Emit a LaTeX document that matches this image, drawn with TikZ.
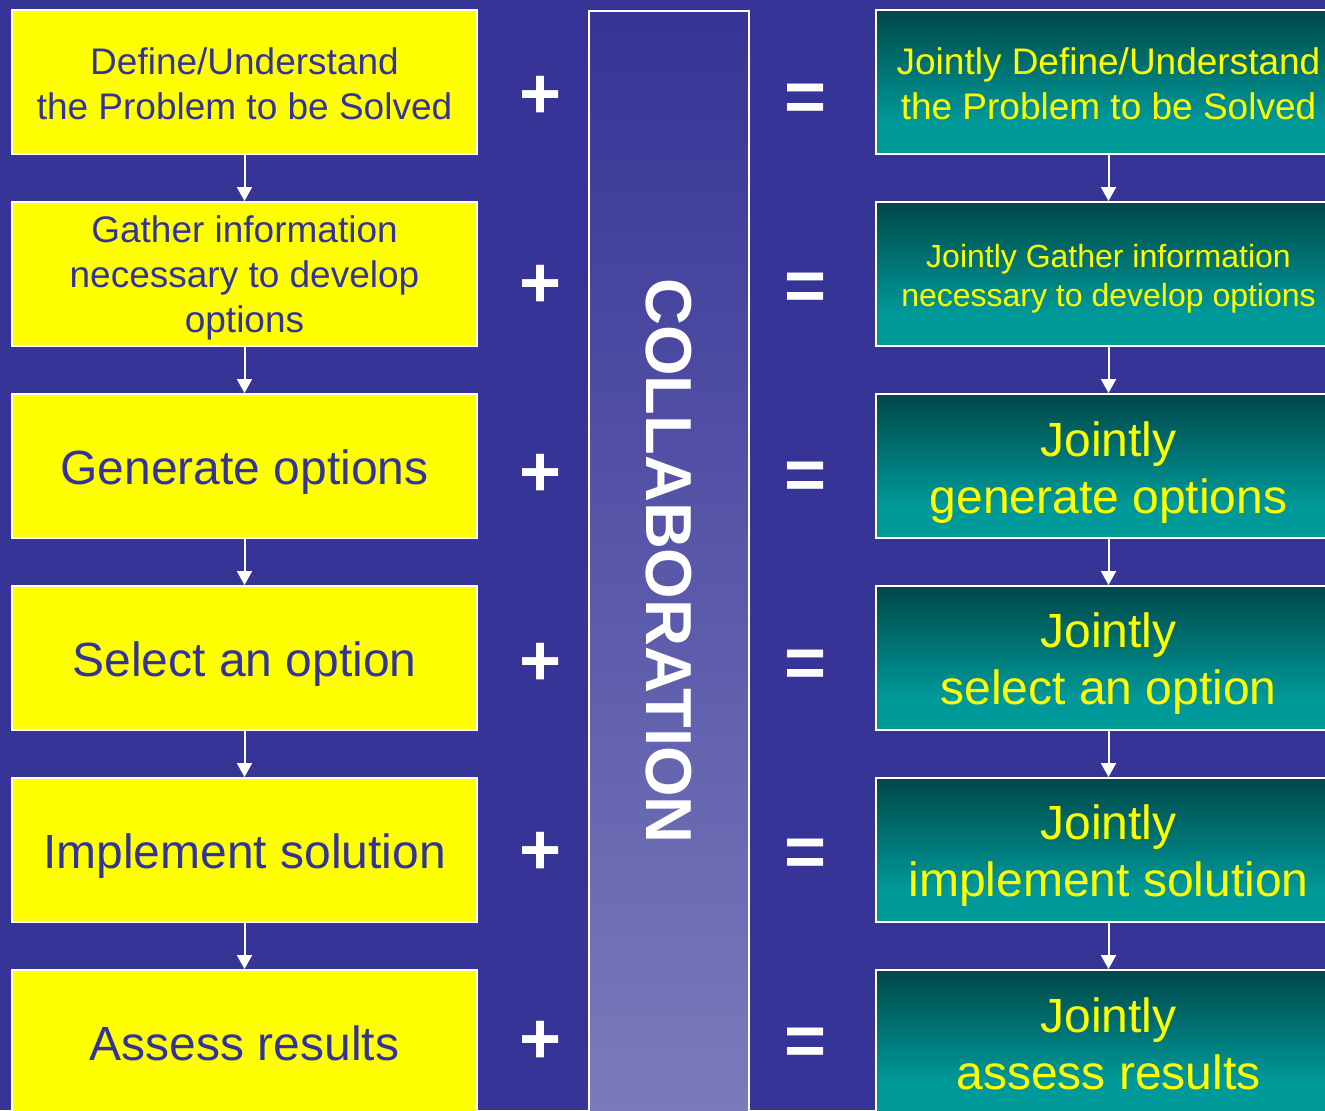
\documentclass[tikz,border=0pt]{standalone}
\usepackage{fontspec}
\setmainfont{Liberation Sans}
\usetikzlibrary{arrows.meta,shadings}

\definecolor{bgblue}{RGB}{54,52,150}
\definecolor{inkblue}{RGB}{51,51,153}
\definecolor{boxyellow}{RGB}{255,255,0}
\definecolor{tealdark}{RGB}{0,72,72}
\definecolor{teallight}{RGB}{0,153,153}
\definecolor{barlow}{RGB}{124,124,188}

% teal fill: dark at the top, reaching full teal about three quarters down
\pgfdeclareverticalshading{tealfade}{100bp}{color(0bp)=(teallight); color(36bp)=(teallight); color(75bp)=(tealdark); color(100bp)=(tealdark)}

\tikzset{
  stepbox/.style={draw=white, line width=2bp, minimum width=465bp, minimum height=144bp,
    inner sep=0pt},
  leftbox/.style={stepbox, fill=boxyellow},
  rightbox/.style={stepbox, shade, shading=tealfade},
  lefttxt/.style={text=inkblue, align=center, inner sep=0pt},
  righttxt/.style={text=boxyellow, align=center, inner sep=0pt},
  smalltxt/.style={font=\fontsize{37bp}{45bp}\selectfont},
  tinytxt/.style={font=\fontsize{32bp}{39bp}\selectfont},
  bigtxt/.style={font=\fontsize{48bp}{57bp}\selectfont},
  flow/.style={draw=white, line width=2bp, -{Triangle[width=15bp,length=14bp]}},
  opsign/.style={text=white, inner sep=0pt, font=\fontsize{72bp}{72bp}\selectfont\bfseries},
}

\begin{document}
\begin{tikzpicture}[x=1bp, y=-1bp]
  \useasboundingbox (0,0) rectangle (1325,1110);
  \clip (0,0) rectangle (1325,1110);
  \fill[bgblue] (0,0) rectangle (1325,1110);

  % central collaboration bar
  \node[draw=white, line width=2bp, top color=bgblue, bottom color=barlow,
        minimum width=160bp, minimum height=1120bp, inner sep=0pt, anchor=north]
        (bar) at (669,10) {};
  \node[rotate=-90, text=white, font=\fontsize{65bp}{65bp}\selectfont\bfseries]
        (collab) at (668.5,561) {COLLABORATION};

  % individual steps
  \node[leftbox] (L1) at (244.5,82)   {};
  \node[leftbox] (L2) at (244.5,274)  {};
  \node[leftbox] (L3) at (244.5,466)  {};
  \node[leftbox] (L4) at (244.5,658)  {};
  \node[leftbox] (L5) at (244.5,850)  {};
  \node[leftbox] (L6) at (244.5,1042) {};
  \node[lefttxt, smalltxt] (L1t) at ([yshift=-2bp]L1.center) {Define/Understand\\the Problem to be Solved};
  \node[lefttxt, smalltxt] (L2t) at ([yshift=-4bp]L2.center) {Gather information\\necessary to develop\\options};
  \node[lefttxt, bigtxt]   (L3t) at ([yshift=-6bp]L3.center) {Generate options};
  \node[lefttxt, bigtxt]   (L4t) at ([yshift=-6bp]L4.center) {Select an option};
  \node[lefttxt, bigtxt]   (L5t) at ([yshift=-6bp]L5.center) {Implement solution};
  \node[lefttxt, bigtxt]   (L6t) at ([yshift=-1bp]L6.center) {Assess results};

  % joint steps
  \node[rightbox] (R1) at (1108.5,82)   {};
  \node[rightbox] (R2) at (1108.5,274)  {};
  \node[rightbox] (R3) at (1108.5,466)  {};
  \node[rightbox] (R4) at (1108.5,658)  {};
  \node[rightbox] (R5) at (1108.5,850)  {};
  \node[rightbox] (R6) at (1108.5,1042) {};
  \node[righttxt, smalltxt] (R1t) at ([yshift=-2bp]R1.center) {Jointly Define/Understand\\the Problem to be Solved};
  \node[righttxt, tinytxt]  (R2t) at ([yshift=-5bp]R2.center) {Jointly Gather information\\necessary to develop options};
  \node[righttxt, bigtxt]   (R3t) at ([yshift=-7bp]R3.center) {Jointly\\generate options};
  \node[righttxt, bigtxt]   (R4t) at ([yshift=-6bp]R4.center) {Jointly\\select an option};
  \node[righttxt, bigtxt]   (R5t) at ([yshift=-6bp]R5.center) {Jointly\\implement solution};
  \node[righttxt, bigtxt]   (R6t) at ([yshift=-2bp]R6.center) {Jointly\\assess results};

  % plus and equals signs
  \foreach \i [evaluate=\i as \py using 97+189*(\i-1),
               evaluate=\i as \ey using 103+188.7*(\i-1)] in {1,...,6} {
    \node[opsign] (plus\i) at (540.5,\py) {+};
    \node[opsign] (eq\i)   at (806,\ey)   {=};
  }

  % flow arrows
  \foreach \a/\b in {1/2,2/3,3/4,4/5,5/6} {
    \draw[flow] (L\a.south) -- (L\b.north);
    \draw[flow] (R\a.south) -- (R\b.north);
  }
\end{tikzpicture}
\end{document}
